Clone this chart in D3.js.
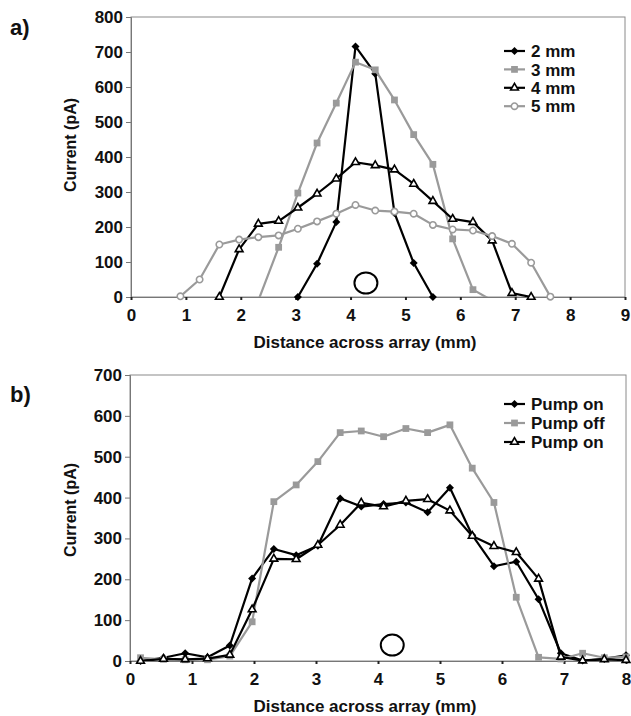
<!DOCTYPE html>
<html>
<head>
<meta charset="utf-8">
<script src="https://cdn.jsdelivr.net/npm/d3@7"></script>
<style>
  body { margin: 0; background: #fff; }
  svg { font-family: "Liberation Sans", Arial, sans-serif; font-weight: bold; }
</style>
</head>
<body>
<div id="chart"></div>
<script>
// ---------------- data: panel a ----------------
const posA = [0.90, 1.25, 1.61, 1.97, 2.32, 2.69, 3.04, 3.39, 3.74, 4.09,
              4.45, 4.80, 5.15, 5.50, 5.86, 6.23, 6.58, 6.94, 7.29, 7.64];
const a2mm = [null, null, null, null, null, null, 0, 95, 214, 716,
              638, 240, 97, 0, null, null, null, null, null, null];
const a3mm = [null, null, null, null, -10, 142, 297, 440, 554, 671,
              649, 563, 464, 379, 166, 21, -10, null, null, null];
const a4mm = [null, null, 0, 136, 209, 217, 255, 295, 338, 385,
              376, 364, 323, 274, 223, 214, 161, 11, 0, null];
const a5mm = [2, 50, 150, 164, 171, 176, 195, 216, 238, 263,
              247, 244, 238, 206, 193, 190, 174, 152, 98, 1];
const legendA = ["2 mm", "3 mm", "4 mm", "5 mm"];
const xTicksA = [0, 1, 2, 3, 4, 5, 6, 7, 8, 9];
const yTicksA = [0, 100, 200, 300, 400, 500, 600, 700, 800];

// ---------------- data: panel b ----------------
const posB = [0.17, 0.54, 0.89, 1.25, 1.61, 1.97, 2.32, 2.68, 3.03, 3.39, 3.73, 4.09,
              4.45, 4.80, 5.16, 5.52, 5.87, 6.23, 6.59, 6.95, 7.30, 7.65, 8.00];
const pumpOn1 = [0, 8, 19, 9, 38, 202, 274, 259, 282, 398, 378, 384,
                 388, 364, 424, 308, 232, 243, 151, 19, 1, 5, 14];
const pumpOff = [8, 4, 3, 3, 12, 96, 390, 431, 488, 559, 563, 549,
                 569, 559, 578, 472, 388, 156, 9, 5, 19, 8, 10];
const pumpOn2 = [0, 5, 4, 6, 15, 126, 250, 249, 284, 333, 387, 378,
                 392, 396, 368, 306, 281, 266, 201, 10, 1, 4, 2];
const legendB = ["Pump on", "Pump off", "Pump on"];
const xTicksB = [0, 1, 2, 3, 4, 5, 6, 7, 8];
const yTicksB = [0, 100, 200, 300, 400, 500, 600, 700];

// circled electrode position (x mm, y pA)
const ringA = [4.28, 40];
const ringB = [4.23, 39];

//---------------------------STYLES---------------------------------
const BLACK = "#000";
const GREY = "#9a9a9a";
const markers = {
    diamond:  { shape: d3.symbolSquare, size: 32, rotate: 45, fill: BLACK, stroke: "none", color: BLACK },
    square:   { shape: d3.symbolSquare, size: 46, rotate: 0, fill: GREY, stroke: "none", color: GREY },
    triangle: { shape: d3.symbolTriangle, size: 26, rotate: 0, fill: "#fff", stroke: BLACK, color: BLACK },
    circle:   { shape: d3.symbolCircle, size: 32, rotate: 0, fill: "#fff", stroke: GREY, color: GREY }
};

const svg = d3.select("#chart").append("svg")
    .attr("width", 631)
    .attr("height", 716);

function drawPanel(p) {
    const x = d3.scaleLinear().domain([0, d3.max(p.xTicks)]).range([p.left, p.right]);
    const y = d3.scaleLinear().domain([0, d3.max(p.yTicks)]).range([p.bottom, p.top]);
    const g = svg.append("g");

    // frame
    g.append("rect")
        .attr("x", p.left).attr("y", p.top)
        .attr("width", p.right - p.left).attr("height", p.bottom - p.top)
        .attr("fill", "none").attr("stroke", "#8a8a8a").attr("stroke-width", 1);

    // axes
    const yAxis = g.append("g")
        .attr("transform", `translate(${p.left},0)`)
        .call(d3.axisLeft(y).tickValues(p.yTicks).tickSize(5).tickPadding(3));
    yAxis.select(".domain").attr("stroke", "#777");
    yAxis.selectAll(".tick line").attr("stroke", "#777");
    yAxis.selectAll("text").attr("font-size", 17).attr("font-family", "Liberation Sans").attr("font-weight", "bold").attr("fill", "#111");

    const xAxis = g.append("g")
        .attr("transform", `translate(0,${p.bottom})`)
        .call(d3.axisBottom(x).tickValues(p.xTicks).tickSize(3).tickPadding(9));
    xAxis.select(".domain").attr("stroke", "#777");
    xAxis.selectAll(".tick line").attr("stroke", "#222").attr("stroke-width", 2);
    xAxis.selectAll("text").attr("font-size", 17).attr("font-family", "Liberation Sans").attr("font-weight", "bold").attr("fill", "#111");

    // labels
    g.append("text")
        .attr("transform", `translate(70,${p.yLabelY}) rotate(-90)`)
        .attr("text-anchor", "middle").attr("dy", "0.35em")
        .attr("font-size", 16).attr("fill", "#111")
        .text("Current (pA)");
    g.append("text")
        .attr("x", 365).attr("y", p.bottom + 51)
        .attr("text-anchor", "middle")
        .attr("font-size", 17).attr("fill", "#111")
        .text("Distance across array (mm)");
    g.append("text")
        .attr("x", 10).attr("y", p.tagY)
        .attr("font-size", 22).attr("fill", "#111")
        .text(p.tag);

    // clip for lines
    const clipId = "clip-" + p.tag.replace(")", "");
    g.append("clipPath").attr("id", clipId)
        .append("rect")
        .attr("x", p.left).attr("y", p.top - 10)
        .attr("width", p.right - p.left + 10).attr("height", p.bottom - p.top + 10);

    const line = d3.line()
        .defined(d => d[1] !== null)
        .x(d => x(d[0]))
        .y(d => y(d[1]));

    // ring annotation
    g.append("ellipse")
        .attr("cx", x(p.ring[0])).attr("cy", y(p.ring[1]))
        .attr("rx", 11.5).attr("ry", 10.5)
        .attr("fill", "none").attr("stroke", BLACK).attr("stroke-width", 2);

    p.series.forEach(s => {
        const pts = p.pos.map((v, i) => [v, s.values[i]]);
        const m = markers[s.marker];
        g.append("path")
            .attr("d", line(pts))
            .attr("clip-path", `url(#${clipId})`)
            .attr("fill", "none")
            .attr("stroke", m.color)
            .attr("stroke-width", 2.2)
            .attr("stroke-linejoin", "round");

        g.selectAll(null)
            .data(pts.filter(d => d[1] !== null && d[1] >= 0))
            .enter().append("path")
            .attr("d", d3.symbol(m.shape, m.size))
            .attr("transform", d => `translate(${x(d[0])},${y(d[1])}) rotate(${m.rotate})`)
            .attr("fill", m.fill)
            .attr("stroke", m.stroke)
            .attr("stroke-width", 1.6);
    });

    // legend
    const lg = g.append("g");
    p.series.forEach((s, i) => {
        const m = markers[s.marker];
        const ly = p.legendY + i * p.legendStep;
        lg.append("line")
            .attr("x1", 504).attr("x2", 525).attr("y1", ly).attr("y2", ly)
            .attr("stroke", m.color).attr("stroke-width", 2.2);
        lg.append("path")
            .attr("d", d3.symbol(m.shape, m.size))
            .attr("transform", `translate(514.5,${ly}) rotate(${m.rotate})`)
            .attr("fill", m.fill).attr("stroke", m.stroke).attr("stroke-width", 1.6);
        lg.append("text")
            .attr("x", 531).attr("y", ly).attr("dy", "0.36em")
            .attr("font-size", 17).attr("fill", "#111")
            .text(p.legend[i]);
    });
}

drawPanel({
    tag: "a)", tagY: 35,
    left: 131, right: 625, top: 17, bottom: 297,
    xTicks: xTicksA, yTicks: yTicksA, pos: posA, yLabelY: 145,
    ring: ringA, legend: legendA, legendY: 51, legendStep: 18.4,
    series: [
        { values: a2mm, marker: "diamond" },
        { values: a3mm, marker: "square" },
        { values: a4mm, marker: "triangle" },
        { values: a5mm, marker: "circle" }
    ]
});

drawPanel({
    tag: "b)", tagY: 402,
    left: 130, right: 626, top: 375, bottom: 661,
    xTicks: xTicksB, yTicks: yTicksB, pos: posB, yLabelY: 510,
    ring: ringB, legend: legendB, legendY: 404, legendStep: 19,
    series: [
        { values: pumpOn1, marker: "diamond" },
        { values: pumpOff, marker: "square" },
        { values: pumpOn2, marker: "triangle" }
    ]
});
</script>
</body>
</html>
